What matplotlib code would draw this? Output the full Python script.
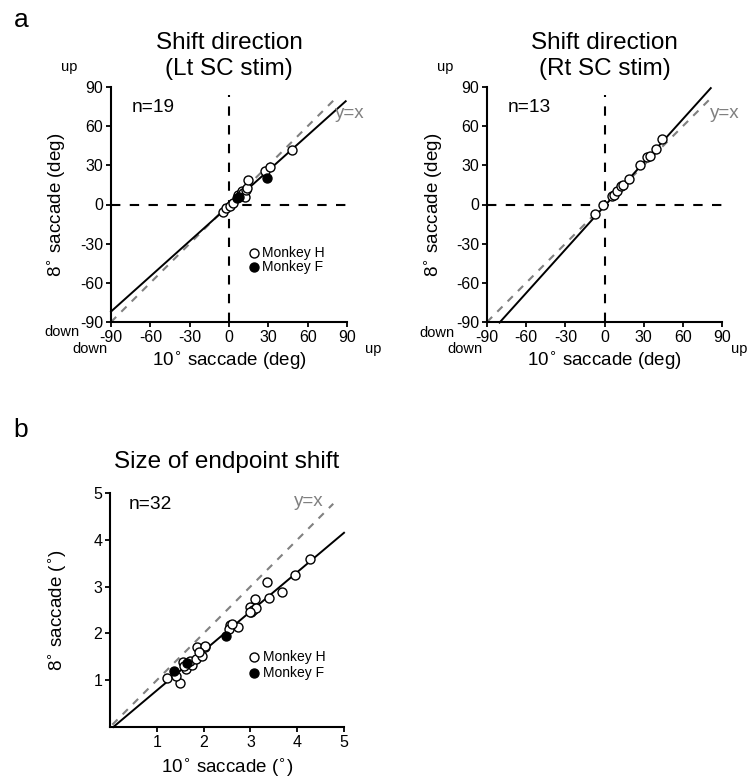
import matplotlib.pyplot as plt
import numpy as np

plt.rcParams['font.family'] = ['Liberation Sans', 'DejaVu Sans']
plt.rcParams['axes.unicode_minus'] = False

# panel a, left: shift direction (Lt SC stim)
lt_h_x = [-4.5, -2, 1, 3, 7, 9, 10, 10, 11, 12, 13, 14, 14.5, 27.5, 31.5, 48]
lt_h_y = [-5.5, -3, -1, 1, 7, 8, 7.5, 10, 9, 6, 11, 13, 18.5, 26, 28.5, 42]
lt_f_x = [6, 8, 29]
lt_f_y = [5, 5.5, 20]
lt_fit = (0.9, -1.0)
lt_fit_x = (-90, 89)

# panel a, right: shift direction (Rt SC stim)
rt_h_x = [-7, -0.8, 5.5, 7, 9.5, 13, 14.5, 19, 27.3, 32.9, 34.5, 39.4, 44]
rt_h_y = [-7.4, -0.5, 6.5, 7.5, 10.7, 14, 15.3, 19.7, 30, 36.2, 37, 42.6, 50.3]
rt_fit = (1.11, -1.2)
rt_fit_x = (-80.4, 81.4)

# panel b: size of endpoint shift
sz_h_x = [1.21, 1.50, 1.40, 1.55, 1.62, 1.76, 1.70, 1.84, 1.85, 1.97, 2.02, 2.03,
          2.56, 2.55, 2.73, 2.99, 3.01, 3.05, 3.09, 3.13, 3.35, 3.40, 3.68, 3.96,
          4.27, 1.58, 1.90, 3.00, 2.60]
sz_h_y = [1.04, 0.94, 1.10, 1.38, 1.23, 1.32, 1.40, 1.45, 1.71, 1.52, 1.70, 1.73,
          2.18, 2.10, 2.14, 2.56, 2.46, 2.49, 2.74, 2.54, 3.09, 2.76, 2.88, 3.25,
          3.58, 1.30, 1.60, 2.45, 2.20]
sz_f_x = [1.36, 1.65, 2.48]
sz_f_y = [1.19, 1.37, 1.95]
sz_fit = (0.842, -0.06)
sz_fit_x = (0.07, 5.0)

dir_ticks = [-90, -60, -30, 0, 30, 60, 90]
size_ticks = [1, 2, 3, 4, 5]

W, H = 748, 777
fig = plt.figure(figsize=(W / 100, H / 100), dpi=100)


def px_axes(x0, y0, x1, y1):
    return fig.add_axes([x0 / W, 1 - y1 / H, (x1 - x0) / W, (y1 - y0) / H])


def style(ax):
    for s in ['top', 'right']:
        ax.spines[s].set_visible(False)
    for s in ['left', 'bottom']:
        ax.spines[s].set_linewidth(1.5)
    ax.tick_params(width=1.3, length=3.5, labelsize=11.5, pad=2)


def points(ax, hx, hy, fx=None, fy=None):
    ax.scatter(hx, hy, s=42, facecolor='white', edgecolor='black', linewidth=1.0,
               zorder=4, clip_on=False)
    if fx is not None:
        ax.scatter(fx, fy, s=42, facecolor='black', edgecolor='black', linewidth=1.0,
                   zorder=5, clip_on=False)


def fit_line(ax, fit, xr):
    xs = np.array(xr)
    ax.plot(xs, fit[0] * xs + fit[1], color='black', lw=1.4, zorder=3, clip_on=False)


def direction_panel(ax, title, n_text, hx, hy, fx, fy, fit, xr, legend):
    style(ax)
    ax.set_xlim(-90, 90)
    ax.set_ylim(-90, 90)
    ax.set_xticks(dir_ticks)
    ax.set_yticks(dir_ticks)
    ax.plot([-90, 90], [0, 0], color='black', lw=1.5, dashes=(4.5, 4.5), zorder=1)
    ax.plot([0, 0], [-90, 84], color='black', lw=1.5, dashes=(4.5, 4.5), zorder=1)
    ax.plot([-90, 81], [-90, 81], color='#808080', lw=1.5, dashes=(3.5, 3.5), zorder=2,
            clip_on=False)
    fit_line(ax, fit, xr)
    points(ax, hx, hy, fx, fy)
    ax.text(-74, 74, n_text, fontsize=13.8, va='center')
    ax.text(81, 70, 'y=x', fontsize=13.5, color='#808080', va='center', clip_on=False)
    ax.set_title(title, fontsize=17.5, pad=9, linespacing=1.2)
    ax.set_xlabel('10$^{\\circ}$ saccade (deg)', fontsize=13.5)
    ax.set_ylabel('8$^{\\circ}$ saccade (deg)', fontsize=13.5)
    ax.xaxis.set_label_coords(0.5, -0.115)
    ax.yaxis.set_label_coords(-0.185, 0.5)
    if legend:
        ax.scatter([19], [-37], s=42, facecolor='white', edgecolor='black', lw=1.0)
        ax.scatter([19], [-48], s=42, facecolor='black', edgecolor='black', lw=1.0)
        ax.text(25, -37, 'Monkey H', fontsize=10, va='center')
        ax.text(25, -48, 'Monkey F', fontsize=10, va='center')


ax1 = px_axes(111, 87, 347, 322)
direction_panel(ax1, 'Shift direction\n(Lt SC stim)', 'n=19', lt_h_x, lt_h_y,
                lt_f_x, lt_f_y, lt_fit, lt_fit_x, True)

ax2 = px_axes(487, 87, 722, 322)
direction_panel(ax2, 'Shift direction\n(Rt SC stim)', 'n=13', rt_h_x, rt_h_y,
                None, None, rt_fit, rt_fit_x, False)

# up/down direction labels
for (x, y, s) in [(69, 67, 'up'), (62, 332, 'down'), (90, 349, 'down'), (373, 349, 'up'),
                  (445, 67, 'up'), (437, 333, 'down'), (465, 349, 'down'), (739, 349, 'up')]:
    fig.text(x / W, 1 - y / H, s, fontsize=10.5, ha='center', va='center')

# panel b
ax3 = px_axes(110, 493, 344, 727)
style(ax3)
ax3.set_xlim(0, 5)
ax3.set_ylim(0, 5)
ax3.set_xticks(size_ticks)
ax3.set_yticks(size_ticks)
ax3.plot([0.05, 4.77], [0.05, 4.77], color='#808080', lw=1.5, dashes=(3.5, 3.5), zorder=2)
fit_line(ax3, sz_fit, sz_fit_x)
points(ax3, sz_h_x, sz_h_y, sz_f_x, sz_f_y)
ax3.text(0.39, 4.75, 'n=32', fontsize=13.8, va='center')
ax3.text(3.92, 4.81, 'y=x', fontsize=13.5, color='#808080', va='center')
ax3.scatter([3.07], [1.5], s=42, facecolor='white', edgecolor='black', lw=1.0)
ax3.scatter([3.07], [1.16], s=42, facecolor='black', edgecolor='black', lw=1.0)
ax3.text(3.27, 1.5, 'Monkey H', fontsize=10, va='center')
ax3.text(3.27, 1.16, 'Monkey F', fontsize=10, va='center')
ax3.set_title('Size of endpoint shift', fontsize=17.5, pad=18)
ax3.set_xlabel('10$^{\\circ}$ saccade ($^{\\circ}$)', fontsize=13.5)
ax3.set_ylabel('8$^{\\circ}$ saccade ($^{\\circ}$)', fontsize=13.5)
ax3.xaxis.set_label_coords(0.5, -0.125)
ax3.yaxis.set_label_coords(-0.18, 0.5)

fig.text(21 / W, 1 - 20 / H, 'a', fontsize=19, ha='center', va='center')
fig.text(21 / W, 1 - 430 / H, 'b', fontsize=19, ha='center', va='center')

fig.savefig('out.png', dpi=100)
